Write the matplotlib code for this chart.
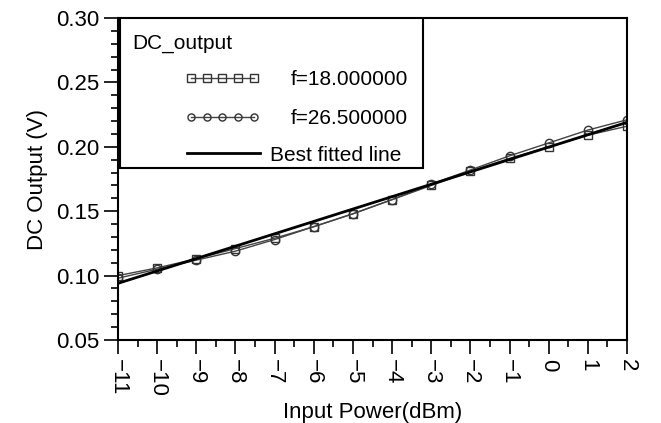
import numpy as np
import matplotlib
matplotlib.use('Agg')
import matplotlib.pyplot as plt
from matplotlib.ticker import MultipleLocator, FormatStrFormatter
from matplotlib.patches import Rectangle

plt.rcParams['font.family'] = ['Liberation Sans', 'DejaVu Sans']

# 데이터
power = [-11, -10, -9, -8, -7, -6, -5, -4, -3, -2, -1, 0, 1, 2]
out_18 = [0.100, 0.106, 0.113, 0.121, 0.129, 0.138, 0.148, 0.159, 0.170, 0.181, 0.191, 0.200, 0.209, 0.216]
out_265 = [0.098, 0.105, 0.112, 0.119, 0.128, 0.138, 0.148, 0.159, 0.171, 0.182, 0.193, 0.203, 0.213, 0.221]
fit_x = [-11, 2]
fit_y = [0.094, 0.219]

fig = plt.figure(figsize=(6.61, 4.23), dpi=100)
ax = fig.add_axes([0.1785, 0.1962, 0.7701, 0.7612])

l1, = ax.plot(power, out_18, color='#444444', lw=1, marker='s', ms=6,
              mfc='none', mec='#333333', mew=1, label='f=18.000000')
l2, = ax.plot(power, out_265, color='#444444', lw=1, marker='o', ms=6,
              mfc='none', mec='#333333', mew=1, label='f=26.500000')
l3, = ax.plot(fit_x, fit_y, color='black', lw=2, label='Best fitted line')

ax.set_xlim(-11, 2)
ax.set_ylim(0.05, 0.30)
ax.xaxis.set_major_locator(MultipleLocator(1))
ax.xaxis.set_minor_locator(MultipleLocator(0.5))
ax.yaxis.set_major_locator(MultipleLocator(0.05))
ax.yaxis.set_minor_locator(MultipleLocator(0.01))
ax.yaxis.set_major_formatter(FormatStrFormatter('%.2f'))

ax.tick_params(which='major', direction='out', length=10, width=1.2, labelsize=16)
ax.tick_params(which='minor', direction='out', length=5, width=1.2)
for lab in ax.get_xticklabels():
    lab.set_rotation(-90)
for sp in ax.spines.values():
    sp.set_linewidth(1.5)

ax.set_xlabel('Input Power(dBm)', fontsize=16, labelpad=4)
ax.set_ylabel('DC Output (V)', fontsize=16, labelpad=6)

# 범례 (테두리 + 제목 + 항목)
ax.add_patch(Rectangle((0.004, 0.534), 0.595, 0.466, transform=ax.transAxes,
                       facecolor='white', edgecolor='black', lw=1.5, zorder=4))
ax.text(0.0275, 0.922, 'DC_output', transform=ax.transAxes, fontsize=15,
        va='center', ha='left', zorder=6)

leg1 = ax.legend(handles=[l1, l2], loc='center left', bbox_to_anchor=(0.1316, 0.748),
                 borderaxespad=0, borderpad=0, fontsize=15, numpoints=5, markerscale=0.85,
                 handlelength=3.6, handletextpad=1.5, labelspacing=0.95, frameon=False)
ax.add_artist(leg1)
leg2 = ax.legend(handles=[l3], loc='center left', bbox_to_anchor=(0.1356, 0.5745),
                 borderaxespad=0, borderpad=0, fontsize=15,
                 handlelength=3.5, handletextpad=0.48, frameon=False)

plt.savefig('out.png', dpi=100)
